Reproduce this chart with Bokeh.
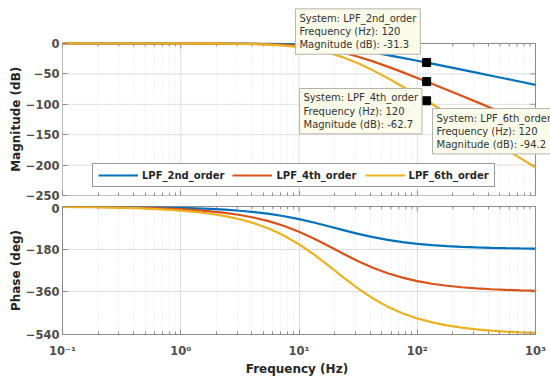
from bokeh.plotting import figure
from bokeh.layouts import column
from bokeh.models import Range1d, FixedTicker, CustomJSTickFormatter, Label
from bokeh.embed import file_html
from bokeh.resources import INLINE

# ---------------- data ----------------
freq = [0.1, 0.1334, 0.1778, 0.2371, 0.3162, 0.4217, 0.5623, 0.7499,
        1.0, 1.334, 1.778, 2.371, 3.162, 4.217, 5.623, 7.499,
        10.0, 13.34, 17.78, 23.71, 31.62, 42.17, 56.23, 74.99,
        100.0, 133.4, 177.8, 237.1, 316.2, 421.7, 562.3, 749.9, 1000.0]

mag_2nd = [0.0, 0.0, 0.0, 0.0, 0.0, 0.0, -0.01, -0.01,
           -0.02, -0.04, -0.07, -0.12, -0.21, -0.38, -0.66, -1.14,
           -1.94, -3.19, -5.06, -7.63, -10.88, -14.72, -18.99, -23.56,
           -28.30, -33.15, -38.07, -43.02, -47.99, -52.98, -57.97, -62.97, -67.96]
mag_4th = [0.0, 0.0, 0.0, 0.0, 0.0, -0.01, -0.01, -0.02,
           -0.04, -0.08, -0.14, -0.24, -0.43, -0.76, -1.32, -2.29,
           -3.88, -6.39, -10.12, -15.25, -21.76, -29.44, -37.99, -47.11,
           -56.60, -66.30, -76.14, -86.04, -95.99, -105.96, -115.94, -125.93, -135.92]
mag_6th = [0.0, 0.0, 0.0, 0.0, -0.01, -0.01, -0.02, -0.04,
           -0.06, -0.12, -0.21, -0.36, -0.65, -1.13, -1.98, -3.43,
           -5.81, -9.58, -15.18, -22.88, -32.64, -44.16, -56.98, -70.67,
           -84.90, -99.46, -114.20, -129.07, -143.98, -158.93, -173.91, -188.90, -203.89]

ph_2nd = [-0.57, -0.76, -1.02, -1.36, -1.81, -2.42, -3.22, -4.29,
          -5.72, -7.63, -10.16, -13.52, -17.97, -23.81, -31.41, -41.11,
          -53.13, -67.38, -83.28, -99.72, -115.38, -129.26, -140.84, -150.14,
          -157.38, -162.94, -167.16, -170.36, -172.76, -174.56, -175.92, -176.94, -177.70]
ph_4th = [-1.14, -1.53, -2.04, -2.72, -3.62, -4.83, -6.44, -8.59,
          -11.45, -15.26, -20.32, -27.05, -35.94, -47.62, -62.82, -82.22,
          -106.26, -134.76, -166.56, -199.44, -230.76, -258.52, -281.68, -300.28,
          -314.76, -325.88, -334.32, -340.72, -345.52, -349.12, -351.84, -353.88, -355.40]
ph_6th = [-1.72, -2.29, -3.05, -4.07, -5.44, -7.25, -9.67, -12.88,
          -17.17, -22.89, -30.49, -40.57, -53.91, -71.44, -94.22, -123.34,
          -159.39, -202.14, -249.84, -299.16, -346.14, -387.78, -422.52, -450.42,
          -472.14, -488.82, -501.48, -511.08, -518.28, -523.68, -527.76, -530.82, -533.10]

series_names = ["LPF_2nd_order", "LPF_4th_order", "LPF_6th_order"]
series_colors = ["#0072BD", "#D95319", "#EDB120"]

tip_freq = 120
tip_mag = [-31.3, -62.7, -94.2]

x_ticks = [0.1, 1, 10, 100, 1000]
mag_ticks = [0, -50, -100, -150, -200, -250]
phase_ticks = [0, -180, -360, -540]

# ---------------- styling / layout ----------------
FONT = "DejaVu Sans"
TICK_COL = "#4d4d4d"
LABEL_COL = "#262626"
AXIS_COL = "#8c8c8c"
GRID_COL = "#dedede"
MINOR_COL = "#e4e4e4"

W = 550
LEFT = 62
RIGHT = 15
FRAME_W = W - LEFT - RIGHT      # pixels spanned by the 4 decades
PX_DEC = FRAME_W / 4.0
EXTRA_R = 15                    # room for the data tip that overflows to the right
minor_x = [m * 10.0 ** e for e in range(-1, 3) for m in range(2, 10)]

fmt = CustomJSTickFormatter(code="""
const e = Math.round(Math.log10(tick));
const sup = {"-1": "\u207B\u00B9", "0": "\u2070", "1": "\u00B9", "2": "\u00B2", "3": "\u00B3"};
const s = sup[String(e)];
return s === undefined ? "" : "10" + s;
""")


def style_axis(ax, show_labels=True, line=True):
    ax.axis_line_color = AXIS_COL if line else None
    ax.major_tick_line_color = AXIS_COL
    ax.minor_tick_line_color = AXIS_COL
    ax.major_tick_in = 5
    ax.major_tick_out = 0
    ax.minor_tick_in = 3
    ax.minor_tick_out = 0
    ax.major_label_text_font = FONT
    ax.major_label_text_font_style = "bold"
    ax.major_label_text_color = TICK_COL
    ax.major_label_text_font_size = "11.5px"
    ax.axis_label_text_font = FONT
    ax.axis_label_text_font_style = "bold"
    ax.axis_label_text_color = LABEL_COL
    ax.axis_label_text_font_size = "12px"
    if not show_labels:
        ax.major_label_text_font_size = "2px"
        ax.major_label_text_alpha = 0.0
        ax.major_label_standoff = 0
        ax.formatter = CustomJSTickFormatter(code='return " ";')


def box_ticks(p, xb, yb, yticks, px_per_unit):
    """inner ticks on the top and right edges"""
    p.segment(x0=minor_x, y0=yb, x1=minor_x, y1=yb - 3 / px_per_unit, line_color=AXIS_COL)
    p.segment(x0=x_ticks, y0=yb, x1=x_ticks, y1=yb - 5 / px_per_unit, line_color=AXIS_COL)
    p.segment(x0=xb, y0=yticks, x1=xb * 10 ** (-5 / PX_DEC), y1=yticks, line_color=AXIS_COL)


# ================= magnitude (frame enlarged so the data tips may overflow) ====
FRAME1_TOP = 5
FRAME1_BOT = 195
H1 = 203
MAG_PX = (FRAME1_BOT - 43) / 250.0          # pixels per dB
y1_top = (43 - FRAME1_TOP) / MAG_PX
x1_end = 10 ** (-1 + (FRAME_W + EXTRA_R) / PX_DEC)

p1 = figure(width=W + EXTRA_R, height=H1, x_axis_type="log",
            x_range=Range1d(x_ticks[0], x1_end), y_range=Range1d(mag_ticks[-1], y1_top),
            output_backend="svg", toolbar_location=None,
            min_border_left=LEFT, min_border_right=RIGHT,
            min_border_top=FRAME1_TOP, min_border_bottom=H1 - FRAME1_BOT)
p1.outline_line_color = None
p1.grid.visible = False
p1.xaxis.ticker = FixedTicker(ticks=x_ticks, minor_ticks=minor_x)
p1.yaxis.ticker = FixedTicker(ticks=mag_ticks)
style_axis(p1.xaxis[0], show_labels=False, line=False)
style_axis(p1.yaxis[0], line=False)
# trailing no-break spaces move the centred title down to the middle of the real axes box
p1.yaxis.axis_label = "Magnitude (dB)" + "\u00a0" * 9
p1.yaxis.major_label_standoff = 3
p1.yaxis.axis_label_standoff = 0

xa, xb = x_ticks[0], x_ticks[-1]
ya, yb = mag_ticks[-1], mag_ticks[0]
p1.segment(x0=minor_x, y0=ya, x1=minor_x, y1=yb, line_color=MINOR_COL,
           line_dash="1 2", line_width=1)
p1.segment(x0=x_ticks, y0=ya, x1=x_ticks, y1=yb, line_color=GRID_COL, line_width=1)
p1.segment(x0=xa, y0=mag_ticks, x1=xb, y1=mag_ticks, line_color=GRID_COL, line_width=1)
box_ticks(p1, xb, yb, mag_ticks, MAG_PX)
p1.line([xa, xb, xb, xa, xa], [yb, yb, ya, ya, yb], line_color=AXIS_COL, line_width=1)

for vals, name, col in zip([mag_2nd, mag_4th, mag_6th], series_names, series_colors):
    p1.line(freq, vals, line_color=col, line_width=2.2, legend_label=name)

p1.scatter([tip_freq] * 3, tip_mag, marker="square", size=8, color="black")

tip_pos = [(9.33, 57.0), (10.1, -74.0), (134.6, -107.0)]
for (tx, ty), name, mv in zip(tip_pos, series_names, tip_mag):
    lab = Label(x=tx, y=ty, anchor="top_left",
                text=f"System: {name}\nFrequency (Hz): {tip_freq}\nMagnitude (dB): {mv}",
                text_font=FONT, text_font_size="10px", text_color="#333333",
                background_fill_color="#fbfbea", background_fill_alpha=1.0,
                border_line_color="#b4b4b4", padding=4)
    p1.add_layout(lab)

lg = p1.legend[0]
lg.orientation = "horizontal"
lg.location = (30, 8)
lg.label_text_font = FONT
lg.label_text_font_style = "bold"
lg.label_text_font_size = "10px"
lg.label_text_color = LABEL_COL
lg.glyph_width = 40
lg.glyph_height = 12
lg.label_standoff = 4
lg.spacing = 8
lg.padding = 5
lg.margin = 0
lg.border_line_color = "#333333"
lg.border_line_width = 1
lg.background_fill_alpha = 1.0

# ================= phase ====================================================
FRAME2_TOP = 206 - H1
FRAME2_H = 132
H2 = 378 - H1
PH_PX = FRAME2_H / 540.0

p2 = figure(width=W, height=H2, x_axis_type="log", x_range=Range1d(x_ticks[0], x_ticks[-1]),
            y_range=Range1d(phase_ticks[-1], phase_ticks[0]),
            output_backend="svg", toolbar_location=None,
            min_border_left=LEFT, min_border_right=RIGHT,
            min_border_top=FRAME2_TOP, min_border_bottom=H2 - FRAME2_TOP - FRAME2_H)
p2.outline_line_color = AXIS_COL
xt = FixedTicker(ticks=x_ticks, minor_ticks=minor_x)
yt = FixedTicker(ticks=phase_ticks)
p2.xaxis.ticker = xt
p2.yaxis.ticker = yt
p2.xaxis.formatter = fmt
style_axis(p2.xaxis[0])
style_axis(p2.yaxis[0])
p2.yaxis.axis_label = "Phase (deg)"
p2.yaxis.major_label_standoff = 3
p2.yaxis.axis_label_standoff = 0
p2.xaxis.axis_label = "Frequency  (Hz)"
p2.xaxis.major_label_standoff = 9
p2.xaxis.axis_label_standoff = 1

p2.xgrid.ticker = xt
p2.xgrid.grid_line_color = GRID_COL
p2.xgrid.minor_grid_line_color = MINOR_COL
p2.xgrid.minor_grid_line_dash = "1 2"
p2.ygrid.ticker = yt
p2.ygrid.grid_line_color = GRID_COL
box_ticks(p2, xb, phase_ticks[0], phase_ticks, PH_PX)

for vals, col in zip([ph_2nd, ph_4th, ph_6th], series_colors):
    p2.line(freq, vals, line_color=col, line_width=2.2)

layout = column(p1, p2)
open("out.html", "w").write(file_html(layout, INLINE))
